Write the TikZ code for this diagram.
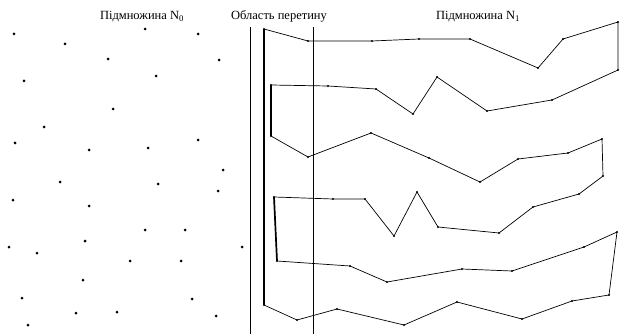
\documentclass[tikz,border=0pt]{standalone}
\usepackage{fontspec}
\setmainfont{Liberation Serif}
\usetikzlibrary{positioning}

\begin{document}
\begin{tikzpicture}[
  x=1pt, y=-1pt,
  every node/.style={font=\fontsize{12.5}{14}\selectfont},
  dot/.style={circle, fill=black, inner sep=0pt, minimum size=3pt},
  vtx/.style={circle, fill=black, inner sep=0pt, minimum size=2.4pt},
  route/.style={line width=0.7pt, line join=round},
  bar/.style={line width=1.7pt},
  divider/.style={line width=0.55pt},
]
  \useasboundingbox (0,0) rectangle (621,334);

  %% Subset N0: scattered points
  \foreach \x/\y [count=\i] in {14/34, 65/44, 145/29, 198/34, 108/59, 219/60,
      24/81, 156/76, 113/109, 44/127, 15/143, 89/150, 148/148, 198/140,
      223/170, 60/182, 158/184, 218/191, 13/200, 89/206, 145/230, 185/230,
      9/247, 37/253, 85/241, 130/261, 181/261, 242/247, 83/280, 22/298,
      192/299, 76/313, 117/312, 216/316, 28/325}
    \node[dot] (d\i) at (\x,\y) {};

  %% Labels
  \node[anchor=base] (lblA) at (142,20) {Підмножина N\textsubscript{0}};
  \node[anchor=base] (lblB) at (279,20) {Область перетину};
  \node[anchor=base] (lblC) at (478,20) {Підмножина N\textsubscript{1}};

  %% Intersection region borders
  \coordinate (lt) at (250,27);
  \coordinate (lb) at (250,334);
  \coordinate (rt) at (313,27);
  \coordinate (rb) at (313,334);
  \draw[divider] (lt) -- (lb);
  \draw[divider] (rt) -- (rb);

  %% Subset N1: the route vertices
  \foreach \x/\y [count=\i] in {264/29, 308/41, 372/41, 419/39, 470/39,
      538/68, 563/39, 618/22, 618/70, 552/100, 487/111, 437/77, 413/114,
      376/89, 328/86, 271/85, 271/136, 308/157, 371/133, 429/158, 480/182,
      518/159, 568/153, 602/139, 603/176, 579/194, 533/207, 499/233,
      438/227, 417/192, 394/236, 365/199, 333/199, 274/197, 277/261,
      350/266, 387/282, 462/269, 512/271, 584/247, 617/232, 609/295,
      572/301, 522/319, 457/302, 404/325, 337/309, 297/320, 264/305}
    \coordinate (v\i) at (\x,\y);

  \draw[route] (v1) \foreach \i in {2,...,49} {-- (v\i)};
  \draw[bar] (v1) -- (v49);
  \draw[bar] (v16) -- (v17);
  \draw[bar] (v34) -- (v35);
  \foreach \i in {1,...,49}
    \node[vtx] (n\i) at (v\i) {};
\end{tikzpicture}
\end{document}
